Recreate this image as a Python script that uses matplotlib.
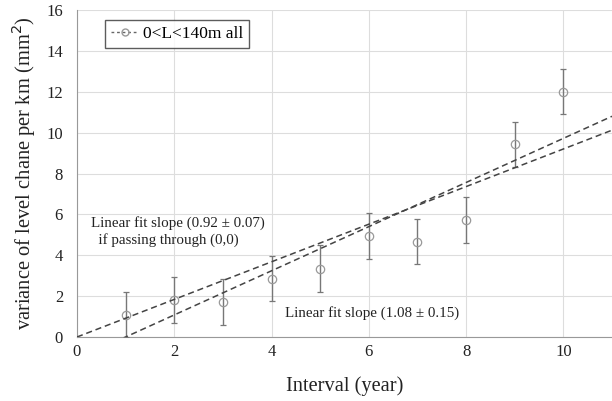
import matplotlib
matplotlib.use("Agg")
import matplotlib.pyplot as plt
import numpy as np
from matplotlib.lines import Line2D

plt.rcParams['font.family'] = ['Liberation Serif', 'DejaVu Serif']

interval = [1, 2, 3, 4, 5, 6, 7, 8, 9, 10]
variance = [1.10, 1.82, 1.73, 2.86, 3.33, 4.95, 4.67, 5.73, 9.42, 12.0]
err = [1.12, 1.12, 1.12, 1.11, 1.15, 1.12, 1.11, 1.12, 1.10, 1.11]

slope_origin = 0.92
slope_free = 1.08
intercept_free = -1.08
fit_x = [0, 11]

fig = plt.figure(figsize=(6.12, 4.01), dpi=100)
ax = fig.add_axes([0.1258, 0.1596, 0.8742, 0.8154])

ax.errorbar(interval, variance, yerr=err, fmt='o', mfc='none', mec='#999999',
            ms=6, mew=0.9, ecolor='#777777', elinewidth=1.0, capsize=2.5,
            capthick=0.9, zorder=3)

fx = np.array(fit_x, dtype=float)
ax.plot(fx, slope_origin * fx, ls=(0, (4, 2.5)), color='#444444', lw=1.1, zorder=4)
ax.plot(fx, slope_free * fx + intercept_free, ls=(0, (4, 2.5)), color='#444444', lw=1.1, zorder=4)

ax.set_xlim(0, 11)
ax.set_ylim(0, 16)
ax.set_xticks([0, 2, 4, 6, 8, 10])
ax.set_yticks([0, 2, 4, 6, 8, 10, 12, 14, 16])
ax.grid(True, color='#dddddd', lw=0.8)
ax.set_axisbelow(True)
for s in ['top', 'right']:
    ax.spines[s].set_visible(False)
for s in ['left', 'bottom']:
    ax.spines[s].set_color('#999999')
ax.tick_params(length=0, labelsize=12, colors='#222222')
ax.tick_params(axis='x', pad=5)
ax.tick_params(axis='y', pad=10)

ax.set_xlabel('Interval (year)', fontsize=14.7, labelpad=12, color='#222222')
ax.set_ylabel('variance of level chane per km (mm$^2$)', fontsize=14.8, labelpad=6, color='#222222')

ax.text(0.29, 5.15, 'Linear fit slope (0.92 \u00b1 0.07)\n  if passing through (0,0)',
        fontsize=10.8, va='center', ha='left', color='#222222', linespacing=1.3)
ax.text(4.27, 1.15, 'Linear fit slope (1.08 \u00b1 0.15)', fontsize=10.8,
        va='center', ha='left', color='#222222')

handle = Line2D([], [], ls=(0, (2, 2)), color='#666666', marker='o', mfc='none',
                mec='#999999', ms=5, lw=1.0)
leg = ax.legend([handle], ['0<L<140m all'], loc='upper left',
                bbox_to_anchor=(0.045, 0.98), fontsize=12.5, frameon=True,
                fancybox=False, handlelength=1.6, handletextpad=0.25,
                borderpad=0.35, borderaxespad=0.2)
leg.get_frame().set_edgecolor('#333333')
leg.get_frame().set_linewidth(1.0)

fig.savefig('out.png', dpi=100)
